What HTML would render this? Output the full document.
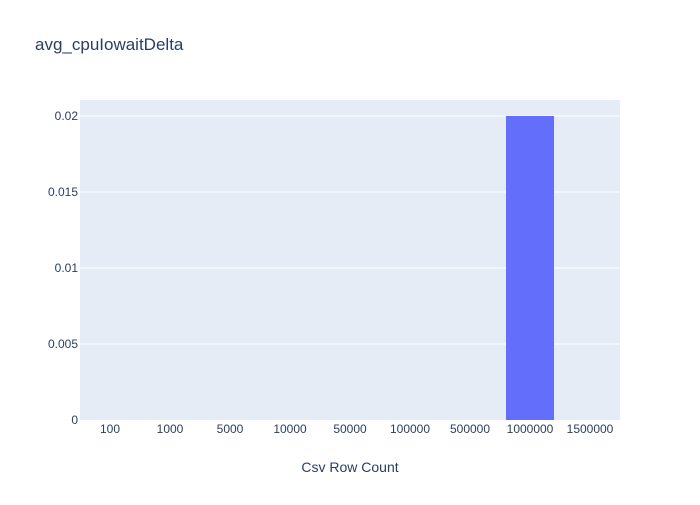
<!DOCTYPE html>
<html><head><meta charset="utf-8"><style>
body{margin:0;background:#fff;font-family:"Liberation Sans",Arial,sans-serif;}
</style></head><body>
<svg width="700" height="500" xmlns="http://www.w3.org/2000/svg">
<rect x="0" y="0" width="700" height="500" fill="#fff"/>
<text x="35" y="50" font-size="17" fill="#2a3f5f">avg_cpuIowaitDelta</text>
<rect x="80" y="100" width="540" height="320" fill="#e5ecf6"/>
<g id="grid"></g>
<g id="bars"></g>
<g id="xt" font-size="12" fill="#2a3f5f" text-anchor="middle"></g>
<g id="yt" font-size="12" fill="#2a3f5f" text-anchor="end"></g>
<text x="350" y="472" font-size="14" fill="#2a3f5f" text-anchor="middle">Csv Row Count</text>
</svg>
<script>
const categories=["100","1000","5000","10000","50000","100000","500000","1000000","1500000"];
const values=[0,0,0,0,0,0,0,0.02,0];
const yTicks=[0,0.005,0.01,0.015,0.02];
const yTickLabels=["0","0.005","0.01","0.015","0.02"];
const NS="http://www.w3.org/2000/svg";
const x0=80,w=540,yb=420,ymax=0.02,ypx=304;
const band=w/categories.length;
const xs=i=>x0+band*i;
const ys=v=>yb-v/ymax*ypx;
const grid=document.getElementById('grid'),bars=document.getElementById('bars'),xt=document.getElementById('xt'),yt=document.getElementById('yt');
yTicks.forEach((t,i)=>{
 if(t>0){const l=document.createElementNS(NS,'line');
 l.setAttribute('x1',x0);l.setAttribute('x2',x0+w);l.setAttribute('y1',ys(t));l.setAttribute('y2',ys(t));
 l.setAttribute('stroke','#fff');l.setAttribute('stroke-width','1');
 
 
 grid.appendChild(l);}
 const tx=document.createElementNS(NS,'text');
 tx.setAttribute('x',x0-2);tx.setAttribute('y',ys(t)+4);tx.textContent=yTickLabels[i];
 
 
 yt.appendChild(tx);
});
categories.forEach((c,i)=>{
 const r=document.createElementNS(NS,'rect');
 const bw=band*0.8;
 r.setAttribute('x',xs(i)+band*0.1);r.setAttribute('width',bw);
 r.setAttribute('y',ys(values[i]));r.setAttribute('height',yb-ys(values[i]));
 r.setAttribute('fill','#636efa');
 
 
 bars.appendChild(r);
 const tx=document.createElementNS(NS,'text');
 tx.setAttribute('x',xs(i)+band/2);tx.setAttribute('y',433);tx.textContent=c;
 
 
 xt.appendChild(tx);
});
</script>
</body></html>
